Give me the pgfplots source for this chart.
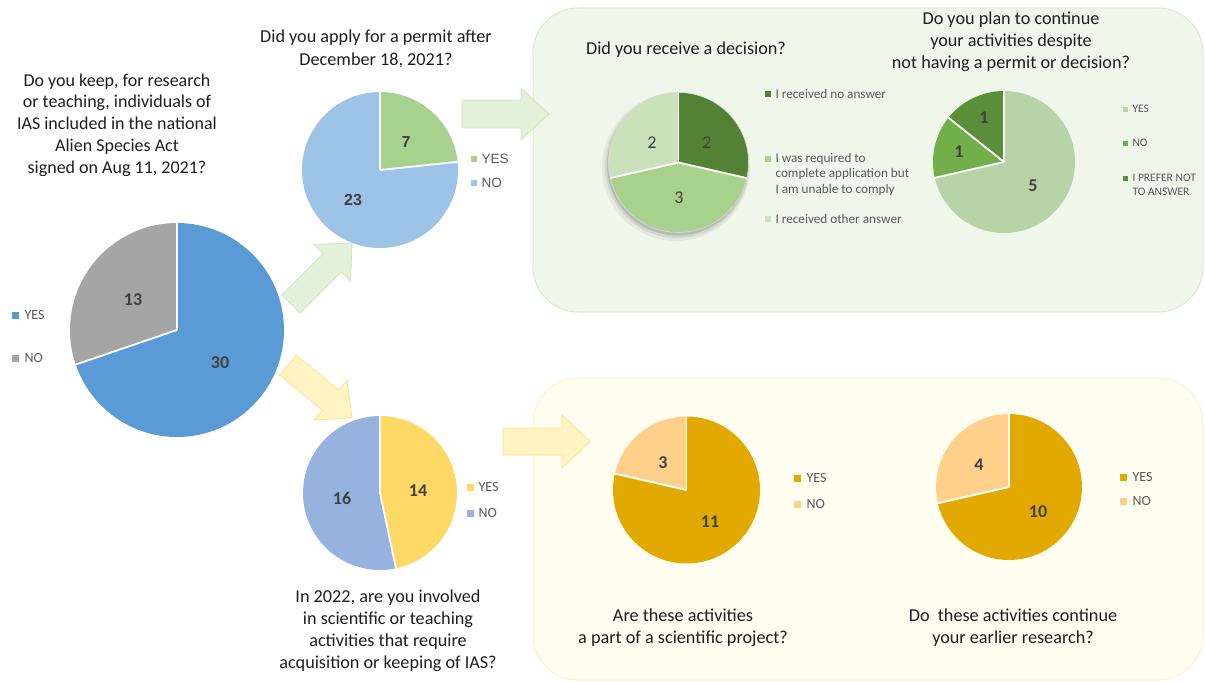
\documentclass[border=0pt]{standalone}
\usepackage{pgfplots}
\pgfplotsset{compat=1.18}
\usepackage{fontspec}
\setmainfont{Carlito}
\newfontfamily\arialf{Liberation Sans}

\definecolor{pBlue}{HTML}{5B9BD5}
\definecolor{pGrey}{HTML}{A5A5A5}
\definecolor{ptGreen}{HTML}{A9D18E}
\definecolor{ptBlue}{HTML}{9DC3E6}
\definecolor{pthYellow}{HTML}{FFD966}
\definecolor{pthBlue}{HTML}{95B3DE}
\definecolor{gDark}{HTML}{548235}
\definecolor{gMed}{HTML}{A9D18E}
\definecolor{gLight}{HTML}{CAE1BC}
\definecolor{gYes}{HTML}{B7D3A8}
\definecolor{gNo}{HTML}{72AF4B}
\definecolor{gPref}{HTML}{5A8E3A}
\definecolor{oDark}{HTML}{E2AA00}
\definecolor{oLight}{HTML}{FDD18B}
\definecolor{boxG}{HTML}{EFF7EA}
\definecolor{boxGb}{HTML}{D8EACD}
\definecolor{boxY}{HTML}{FFFDF0}
\definecolor{boxYb}{HTML}{FBF2CC}
\definecolor{arG}{HTML}{E3F0DA}
\definecolor{arGb}{HTML}{D0E5C3}
\definecolor{arY}{HTML}{FFF4C2}
\definecolor{arYb}{HTML}{FCE38E}
\definecolor{txt}{HTML}{1E1E1E}
\definecolor{lab}{HTML}{404040}
\definecolor{leg}{HTML}{595959}

% pie drawn from plain counts, clockwise from 12 o'clock
\newcommand{\drawpie}[4]{%
  \gdef\pietotal{0}%
  \foreach \pv/\pc in {#4}{\pgfmathparse{\pietotal+\pv}\xdef\pietotal{\pgfmathresult}}%
  \gdef\piecum{0}%
  \foreach \pv/\pc in {#4}{%
    \pgfmathsetmacro{\pa}{90-\piecum/\pietotal*360}%
    \pgfmathsetmacro{\pb}{90-(\piecum+\pv)/\pietotal*360}%
    \fill[\pc] (axis cs:#1,#2) -- ++(\pa:#3pt) arc[start angle=\pa, end angle=\pb, radius=#3pt] -- cycle;%
    \pgfmathparse{\piecum+\pv}\xdef\piecum{\pgfmathresult}%
  }%
  \gdef\piecum{0}%
  \foreach \pv/\pc in {#4}{%
    \pgfmathsetmacro{\pa}{90-\piecum/\pietotal*360}%
    \draw[white, line width=1.8pt] (axis cs:#1,#2) -- ++(\pa:#3pt);%
    \pgfmathparse{\piecum+\pv}\xdef\piecum{\pgfmathresult}%
  }%
}

\begin{document}
\begin{tikzpicture}
\begin{axis}[
  width=1205pt, height=682pt, scale only axis,
  xmin=0, xmax=1205, ymin=0, ymax=682, y dir=reverse,
  hide axis, clip=false,
]
% full canvas as bounding box
\path (axis cs:0,0) rectangle (axis cs:1205,682);
% background panels
\draw[boxGb, fill=boxG, line width=1pt, rounded corners=45pt] (axis cs:533,8) rectangle (axis cs:1203,312);
\draw[boxYb, fill=boxY, line width=1pt, rounded corners=45pt] (axis cs:533,378) rectangle (axis cs:1203,680);

% arrows
\filldraw[arGb, fill=arG, line width=0.8pt] (axis cs:281.8,294.8) -- (axis cs:323.0,253.6) -- (axis cs:313.8,244.4) -- (axis cs:352,243) -- (axis cs:350.6,281.2) -- (axis cs:341.4,272.0) -- (axis cs:300.2,313.2) -- cycle;
\filldraw[arYb, fill=arY, line width=0.8pt] (axis cs:296.3,355.0) -- (axis cs:338.7,390.1) -- (axis cs:347.0,380.1) -- (axis cs:352,418) -- (axis cs:313.8,420.1) -- (axis cs:322.1,410.1) -- (axis cs:279.7,375.0) -- cycle;
\filldraw[arGb, fill=arG, line width=0.8pt] (axis cs:462,100) -- (axis cs:521,100) -- (axis cs:521,88) -- (axis cs:549,114) -- (axis cs:521,140) -- (axis cs:521,128) -- (axis cs:462,128) -- cycle;
\filldraw[arYb, fill=arY, line width=0.8pt] (axis cs:503,428) -- (axis cs:562,428) -- (axis cs:562,415) -- (axis cs:590,441.5) -- (axis cs:562,468) -- (axis cs:562,455) -- (axis cs:503,455) -- cycle;

% pie 4 shadow
\fill[black, opacity=0.05] (axis cs:676,167) circle[radius=74pt];
\fill[black, opacity=0.08] (axis cs:677,166) circle[radius=72pt];
\fill[black, opacity=0.12] (axis cs:677.5,165) circle[radius=70.5pt];

\pgfplotsextra{%
  \drawpie{177}{330}{107}{30/pBlue,13/pGrey}%
  \drawpie{380}{170}{78}{7/ptGreen,23/ptBlue}%
  \drawpie{380}{493}{77}{14/pthYellow,16/pthBlue}%
  \drawpie{678.5}{162.5}{70}{2/gDark,3/gMed,2/gLight}%
  \drawpie{1004}{162}{71}{5/gYes,1/gNo,1/gPref}%
  \drawpie{686.5}{490}{73.5}{11/oDark,3/oLight}%
  \drawpie{1009}{487}{73}{10/oDark,4/oLight}%
}
\draw[white!85!black, line width=0.6pt] (axis cs:678.5,162.5) circle[radius=70pt];

% titles
\node[txt, align=center, font=\fontsize{18}{21.8}\selectfont] at (axis cs:117,125) {Do you keep, for research\\or teaching, individuals of\\IAS included in the national\\Alien Species Act\\signed on Aug 11, 2021?};
\node[txt, align=center, font=\fontsize{18.2}{23}\selectfont] at (axis cs:376,48.5) {Did you apply for a permit after\\December 18, 2021?};
\node[txt, align=center, font=\fontsize{18.2}{22}\selectfont] at (axis cs:388,631) {In 2022, are you involved\\in scientific or teaching\\activities that require\\acquisition or keeping of IAS?};
\node[txt, align=center, font=\fontsize{18.2}{22}\selectfont] at (axis cs:686,50) {Did you receive a decision?};
\node[txt, align=center, font=\fontsize{18.2}{22}\selectfont] at (axis cs:1011,42) {Do you plan to continue\\your activities despite\\not having a permit or decision?};
\node[txt, align=center, font=\fontsize{18.2}{22}\selectfont] at (axis cs:683,628) {Are these activities\\a part of a scientific project?};
\node[txt, align=center, font=\fontsize{18.2}{22}\selectfont] at (axis cs:1013,628) {Do\ \ these activities continue\\your earlier research?};

% slice values
\node[lab, font=\fontsize{18}{20}\selectfont\bfseries] at (axis cs:133,300) {13};
\node[lab, font=\fontsize{18}{20}\selectfont\bfseries] at (axis cs:220,363) {30};
\node[lab, font=\arialf\fontsize{16}{18}\selectfont\bfseries] at (axis cs:406,142) {7};
\node[lab, font=\arialf\fontsize{16}{18}\selectfont\bfseries] at (axis cs:353,200) {23};
\node[lab, font=\fontsize{18}{20}\selectfont\bfseries] at (axis cs:418,491) {14};
\node[lab, font=\fontsize{18}{20}\selectfont\bfseries] at (axis cs:342,498) {16};
\node[lab, font=\fontsize{18}{20}\selectfont] at (axis cs:652,143) {2};
\node[lab, font=\fontsize{18}{20}\selectfont] at (axis cs:707,143) {2};
\node[lab, font=\fontsize{18}{20}\selectfont] at (axis cs:679,198) {3};
\node[lab, font=\fontsize{18}{20}\selectfont\bfseries] at (axis cs:984,118) {1};
\node[lab, font=\fontsize{18}{20}\selectfont\bfseries] at (axis cs:959,152) {1};
\node[lab, font=\fontsize{18}{20}\selectfont\bfseries] at (axis cs:1033,186) {5};
\node[lab, font=\fontsize{18}{20}\selectfont\bfseries] at (axis cs:663,463) {3};
\node[lab, font=\fontsize{18}{20}\selectfont\bfseries] at (axis cs:710,522) {11};
\node[lab, font=\fontsize{18}{20}\selectfont\bfseries] at (axis cs:979,465) {4};
\node[lab, font=\fontsize{18}{20}\selectfont\bfseries] at (axis cs:1038,512) {10};

% legend texts
\node[leg, anchor=west, font=\fontsize{14}{16}\selectfont] at (axis cs:21,315) {YES};
\node[leg, anchor=west, font=\fontsize{14}{16}\selectfont] at (axis cs:21,358) {NO};
\node[leg, anchor=west, font=\arialf\fontsize{13.5}{16}\selectfont] at (axis cs:478,159) {YES};
\node[leg, anchor=west, font=\arialf\fontsize{13.5}{16}\selectfont] at (axis cs:478,183) {NO};
\node[leg, anchor=west, font=\fontsize{14}{16}\selectfont] at (axis cs:475,487) {YES};
\node[leg, anchor=west, font=\fontsize{14}{16}\selectfont] at (axis cs:475,513) {NO};
\node[leg, anchor=west, font=\fontsize{13.2}{15.5}\selectfont] at (axis cs:772,94) {I received no answer};
\node[leg, anchor=west, align=left, font=\fontsize{13.2}{15.5}\selectfont] at (axis cs:772,174) {I was required to\\complete application but\\I am unable to comply};
\node[leg, anchor=west, font=\fontsize{13.2}{15.5}\selectfont] at (axis cs:772,219) {I received other answer};
\node[leg, anchor=west, font=\fontsize{11.5}{14}\selectfont] at (axis cs:1129,109) {YES};
\node[leg, anchor=west, font=\fontsize{11.5}{14}\selectfont] at (axis cs:1129,143) {NO};
\node[leg, anchor=west, align=left, font=\fontsize{11.5}{14}\selectfont] at (axis cs:1129,185) {I PREFER NOT\\TO ANSWER};
\node[leg, anchor=west, font=\fontsize{14}{16}\selectfont] at (axis cs:803,478) {YES};
\node[leg, anchor=west, font=\fontsize{14}{16}\selectfont] at (axis cs:803,504) {NO};
\node[leg, anchor=west, font=\fontsize{14}{16}\selectfont] at (axis cs:1129,477) {YES};
\node[leg, anchor=west, font=\fontsize{14}{16}\selectfont] at (axis cs:1129,501) {NO};

% legend swatches
\addplot[only marks, mark=square*, mark size=2.8pt, color=pBlue] coordinates {(15,315)};
\addplot[only marks, mark=square*, mark size=2.8pt, color=pGrey] coordinates {(15,358)};
\addplot[only marks, mark=square*, mark size=2.6pt, color=ptGreen] coordinates {(474,159)};
\addplot[only marks, mark=square*, mark size=2.6pt, color=ptBlue] coordinates {(474,183)};
\addplot[only marks, mark=square*, mark size=2.8pt, color=pthYellow] coordinates {(470,487)};
\addplot[only marks, mark=square*, mark size=2.8pt, color=pthBlue] coordinates {(470,513)};
\addplot[only marks, mark=square*, mark size=2.4pt, color=gDark] coordinates {(768,94)};
\addplot[only marks, mark=square*, mark size=2.4pt, color=gMed] coordinates {(768,159)};
\addplot[only marks, mark=square*, mark size=2.4pt, color=gLight] coordinates {(768,219)};
\addplot[only marks, mark=square*, mark size=1.8pt, color=gYes] coordinates {(1125,109)};
\addplot[only marks, mark=square*, mark size=1.8pt, color=gNo] coordinates {(1125,143)};
\addplot[only marks, mark=square*, mark size=1.8pt, color=gPref] coordinates {(1125,178)};
\addplot[only marks, mark=square*, mark size=2.8pt, color=oDark] coordinates {(797,478)};
\addplot[only marks, mark=square*, mark size=2.8pt, color=oLight] coordinates {(797,504)};
\addplot[only marks, mark=square*, mark size=2.8pt, color=oDark] coordinates {(1123,477)};
\addplot[only marks, mark=square*, mark size=2.8pt, color=oLight] coordinates {(1123,501)};
\end{axis}
\end{tikzpicture}
\end{document}
